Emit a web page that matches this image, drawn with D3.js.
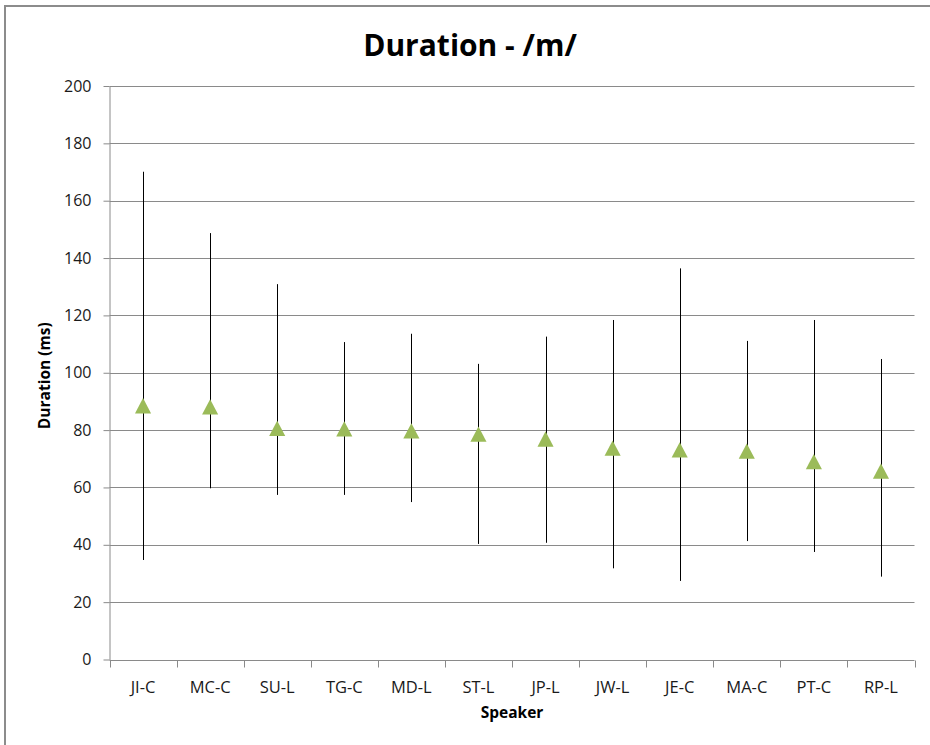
<!DOCTYPE html>
<html>
<head>
<meta charset="utf-8">
<script src="https://cdn.jsdelivr.net/npm/d3@7"></script>
<style>
  body { margin: 0; background: #fff; }
  svg { display: block; font-family: "Open Sans", sans-serif; }
</style>
</head>
<body>
<div id="chart"></div>
<script>
// 数据
const speakers = ["JI-C", "MC-C", "SU-L", "TG-C", "MD-L", "ST-L", "JP-L", "JW-L", "JE-C", "MA-C", "PT-C", "RP-L"];
const meanDur = [88.5, 88.1, 80.6, 80.4, 79.7, 78.6, 76.9, 73.7, 73.1, 72.7, 69.0, 65.7];
const maxDur  = [170.1, 148.7, 130.9, 110.7, 113.6, 103.1, 112.6, 118.4, 136.4, 111.1, 118.4, 104.8];
const minDur  = [34.7, 59.7, 57.4, 57.4, 54.9, 40.3, 40.7, 31.8, 27.4, 41.3, 37.5, 28.9];
const yTicks = [0, 20, 40, 60, 80, 100, 120, 140, 160, 180, 200];

// 画布
const width = 930;
const height = 745;
const margin = { left: 109.5, right: 15.5, top: 86, bottom: 85.5 };

const svg = d3.select("#chart").append("svg")
    .attr("width", width)
    .attr("height", height);

// 外框
svg.append("rect")
    .attr("x", 5).attr("y", 6)
    .attr("width", width + 10).attr("height", height + 10)
    .attr("fill", "#fff")
    .attr("stroke", "#8c8c8c")
    .attr("stroke-width", 2);

const x = d3.scaleBand()
    .domain(speakers)
    .range([margin.left, width - margin.right]);

const y = d3.scaleLinear()
    .domain([0, 200])
    .range([height - margin.bottom, margin.top]);

// 网格线
svg.append("g")
    .selectAll("line")
    .data(yTicks.filter(d => d > 0))
    .enter().append("line")
    .attr("x1", margin.left).attr("x2", width - margin.right)
    .attr("y1", d => Math.round(y(d)) + 0.5).attr("y2", d => Math.round(y(d)) + 0.5)
    .attr("stroke", "#8a8a8a")
    .attr("stroke-width", 1);

// y 轴
const yAxis = svg.append("g")
    .attr("transform", `translate(${margin.left},0)`)
    .call(d3.axisLeft(y).tickValues(yTicks).tickSize(6).tickPadding(12).tickSizeOuter(0));
yAxis.select(".domain").attr("stroke", "#8a8a8a");
yAxis.selectAll(".tick line").attr("stroke", "#8a8a8a");
yAxis.selectAll(".tick text")
    .attr("fill", "#1a1a1a")
    .style("font-size", "16px")
    .style("font-family", "'Open Sans', sans-serif");

// x 轴
const xAxisG = svg.append("g")
    .attr("transform", `translate(0,${Math.round(y(0)) + 0.5})`);
xAxisG.append("line")
    .attr("x1", margin.left).attr("x2", width - margin.right)
    .attr("stroke", "#8a8a8a");
const bounds = speakers.map(s => x(s)).concat([width - margin.right]);
xAxisG.selectAll(".xtick")
    .data(bounds)
    .enter().append("line")
    .attr("x1", d => Math.round(d) + 0.5).attr("x2", d => Math.round(d) + 0.5)
    .attr("y1", 0).attr("y2", 7)
    .attr("stroke", "#8a8a8a");
xAxisG.selectAll(".xlabel")
    .data(speakers)
    .enter().append("text")
    .attr("x", d => x(d) + x.bandwidth() / 2)
    .attr("y", 32)
    .attr("text-anchor", "middle")
    .attr("fill", "#1a1a1a")
    .style("font-size", "16.5px")
    .text(d => d);

// 误差线
svg.append("g")
    .selectAll("line")
    .data(speakers)
    .enter().append("line")
    .attr("x1", d => Math.round(x(d) + x.bandwidth() / 2) + 0.5)
    .attr("x2", d => Math.round(x(d) + x.bandwidth() / 2) + 0.5)
    .attr("y1", (d, i) => y(maxDur[i]))
    .attr("y2", (d, i) => y(minDur[i]))
    .attr("stroke", "#000")
    .attr("stroke-width", 1);

// 三角形标记（以外接框中心对齐，像 Excel 那样）
const excelTriangle = {
    draw(context, size) {
        const w = Math.sqrt(size) * 0.52;
        const h = w * 0.95;
        context.moveTo(0, -h);
        context.lineTo(w, h);
        context.lineTo(-w, h);
        context.closePath();
    }
};
const tri = d3.symbol().type(excelTriangle).size(240);
svg.append("g")
    .selectAll("path")
    .data(speakers)
    .enter().append("path")
    .attr("d", tri)
    .attr("transform", (d, i) => `translate(${x(d) + x.bandwidth() / 2},${y(meanDur[i])})`)
    .attr("fill", "#9bbb59");

// 标题
svg.append("text")
    .attr("x", 470).attr("y", 56)
    .attr("text-anchor", "middle")
    .style("font-size", "30px")
    .style("font-weight", "bold")
    .attr("fill", "#000")
    .text("Duration - /m/");

svg.append("text")
    .attr("x", (margin.left + width - margin.right) / 2)
    .attr("y", 718)
    .attr("text-anchor", "middle")
    .style("font-size", "15.5px")
    .style("font-weight", "bold")
    .attr("fill", "#000")
    .text("Speaker");

svg.append("text")
    .attr("transform", `translate(50,${(margin.top + height - margin.bottom) / 2 + 3}) rotate(-90)`)
    .attr("text-anchor", "middle")
    .style("font-size", "15.5px")
    .style("font-weight", "bold")
    .attr("fill", "#000")
    .text("Duration (ms)");
</script>
</body>
</html>
